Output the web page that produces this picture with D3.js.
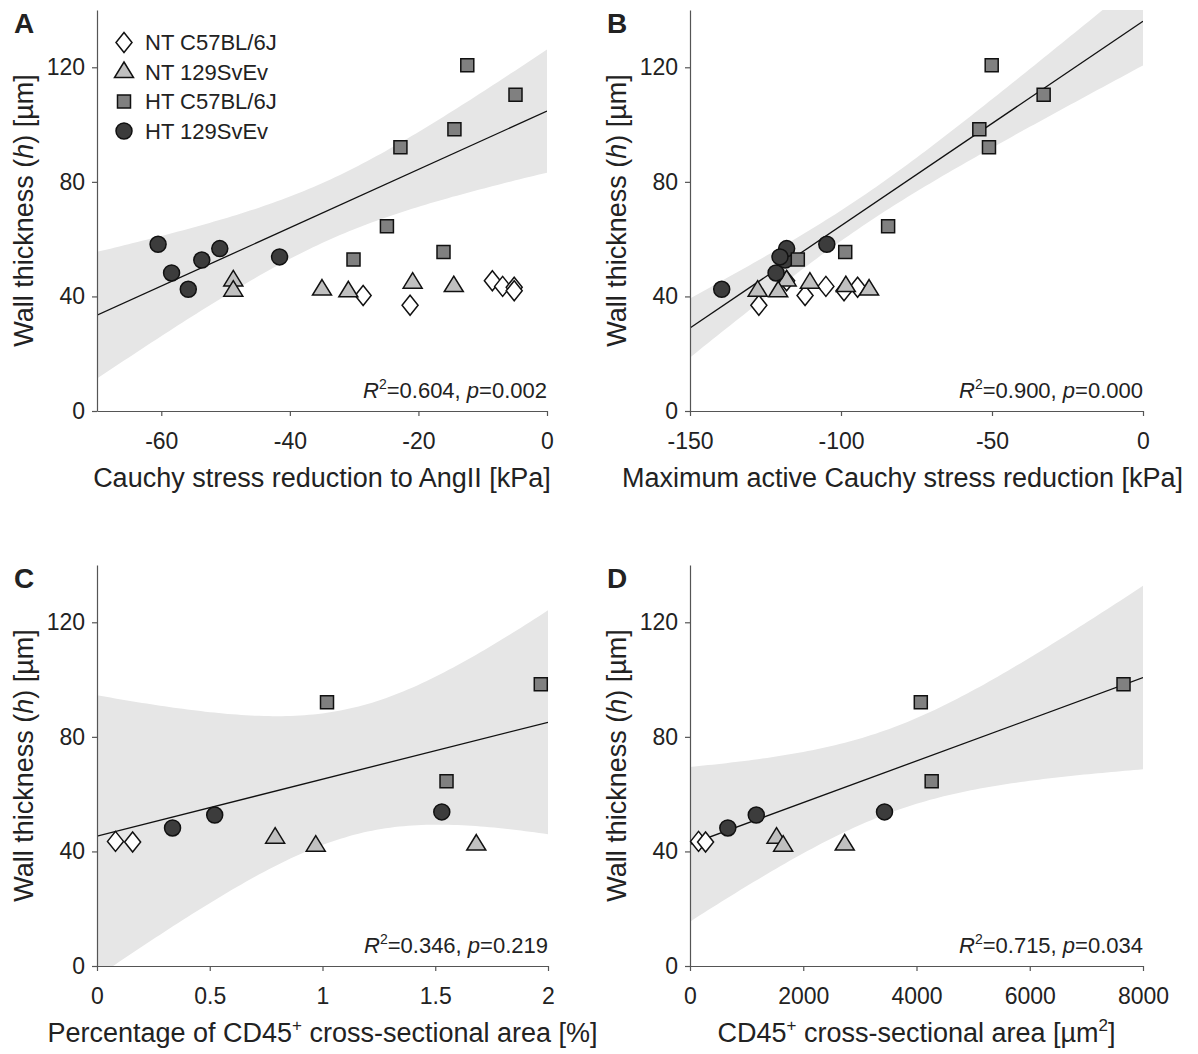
<!DOCTYPE html>
<html>
<head>
<meta charset="utf-8">
<script src="https://cdn.jsdelivr.net/npm/d3@7"></script>
<style>
  body { margin: 0; background: #fff; }
  text { font-family: Arial, "Liberation Sans", sans-serif; fill: #222; }
</style>
</head>
<body>
<div id="chart"></div>
<script>
// ---- Data ----
const groupNames = ['NT C57BL/6J', 'NT 129SvEv', 'HT C57BL/6J', 'HT 129SvEv'];

// wall thickness h [µm], all specimens (panels A, B)
const hNTC57 = [40.3, 36.9, 45.5, 43.5, 43.2, 42.0];
const hNT129 = [45.6, 42.0, 42.4, 41.8, 44.8, 43.6];
const hHTC57 = [120.7, 110.4, 98.4, 92.1, 64.5, 52.9, 55.5];
const hHT129 = [58.2, 48.2, 42.5, 52.7, 56.7, 53.8];

// A: Cauchy stress reduction to AngII [kPa]
const angNTC57 = [-28.6, -21.3, -8.5, -6.9, -5.1, -5.1];
const angNT129 = [-48.8, -48.8, -35.0, -30.9, -20.9, -14.5];
const angHTC57 = [-12.4, -4.9, -14.4, -22.8, -24.9, -30.1, -16.1];
const angHT129 = [-60.5, -58.4, -55.8, -53.7, -50.9, -41.6];

// B: maximum active Cauchy stress reduction [kPa]
const maxNTC57 = [-111.9, -127.2, -118.0, -105.0, -94.5, -99.0];
const maxNT129 = [-118.0, -127.6, -90.7, -120.8, -110.3, -98.4];
const maxHTC57 = [-50.1, -32.9, -54.2, -51.0, -84.4, -114.3, -98.6];
const maxHT129 = [-104.7, -121.5, -139.5, -118.5, -118.0, -120.2];

// wall thickness of the specimens with CD45 data (panels C, D)
const hCdNTC57 = [43.5, 43.3];
const hCdNT129 = [44.8, 42.0, 42.4];
const hCdHTC57 = [92.1, 64.5, 98.4];
const hCdHT129 = [48.2, 52.7, 53.8];

// C: percentage of CD45+ cross-sectional area [%]
const pctNTC57 = [0.082, 0.158];
const pctNT129 = [0.79, 0.97, 1.682];
const pctHTC57 = [1.02, 1.55, 1.968];
const pctHT129 = [0.335, 0.522, 1.529];

// D: CD45+ cross-sectional area [µm2]
const areaNTC57 = [151, 275];
const areaNT129 = [1528, 1645, 2733];
const areaHTC57 = [4076, 4268, 7656];
const areaHT129 = [668, 1170, 3435];

const yTicks = [0, 40, 80, 120];
const xTicksA = [-60, -40, -20, 0];
const xTicksB = [-150, -100, -50, 0];
const xTicksC = [0, 0.5, 1, 1.5, 2];
const xTicksD = [0, 2000, 4000, 6000, 8000];

const r2Values = ['0.604', '0.900', '0.346', '0.715'];
const pValues = ['0.002', '0.000', '0.219', '0.034'];

// ---- Stats helpers ----
function lgamma(z) {
    const c = [0.99999999999980993, 676.5203681218851, -1259.1392167224028,
        771.32342877765313, -176.61502916214059, 12.507343278686905,
        -0.13857109526572012, 9.9843695780195716e-6, 1.5056327351493116e-7];
    z -= 1;
    let x = c[0];
    for (let i = 1; i < 9; i++) x += c[i] / (z + i);
    const t = z + 7.5;
    return 0.5 * Math.log(2 * Math.PI) + (z + 0.5) * Math.log(t) - t + Math.log(x);
}
function tCdf(t, df) {
    const k = Math.exp(lgamma((df + 1) / 2) - lgamma(df / 2)) / Math.sqrt(df * Math.PI);
    const pdf = u => k * Math.pow(1 + u * u / df, -(df + 1) / 2);
    const n = 400, h = t / n;
    let s = pdf(0) + pdf(t);
    for (let i = 1; i < n; i++) s += (i % 2 ? 4 : 2) * pdf(i * h);
    return 0.5 + s * h / 3;
}
function tInv(p, df) {
    let lo = 0, hi = 50;
    for (let i = 0; i < 60; i++) {
        const mid = (lo + hi) / 2;
        if (tCdf(mid, df) < p) lo = mid; else hi = mid;
    }
    return (lo + hi) / 2;
}
function linearFit(xs, ys) {
    const n = xs.length;
    const mx = d3.mean(xs), my = d3.mean(ys);
    let sxx = 0, sxy = 0, syy = 0;
    xs.forEach((x, i) => {
        sxx += (x - mx) ** 2; sxy += (x - mx) * (ys[i] - my); syy += (ys[i] - my) ** 2;
    });
    const slope = sxy / sxx, icpt = my - slope * mx;
    const s = Math.sqrt((syy - sxy * sxy / sxx) / (n - 2));
    const tc = tInv(0.975, n - 2);
    return {
        at: x => icpt + slope * x,
        half: x => tc * s * Math.sqrt(1 / n + (x - mx) ** 2 / sxx)
    };
}

// ---- Panels ----
const panels = [
    { letter: 'A', xs: [angNTC57, angNT129, angHTC57, angHT129], ys: [hNTC57, hNT129, hHTC57, hHT129],
      xDomain: [-70, 0], xTicks: xTicksA, left: 97, top: 10, width: 450, labelShift: 0,
      xLabel: [{ t: 'Cauchy stress reduction to AngII [kPa]' }] },
    { letter: 'B', xs: [maxNTC57, maxNT129, maxHTC57, maxHT129], ys: [hNTC57, hNT129, hHTC57, hHT129],
      xDomain: [-150, 0], xTicks: xTicksB, left: 690, top: 10, width: 453, labelShift: -14,
      xLabel: [{ t: 'Maximum active Cauchy stress reduction [kPa]' }] },
    { letter: 'C', xs: [pctNTC57, pctNT129, pctHTC57, pctHT129], ys: [hCdNTC57, hCdNT129, hCdHTC57, hCdHT129],
      xDomain: [0, 2], xTicks: xTicksC, left: 97, top: 565, width: 451, labelShift: 0,
      xLabel: [{ t: 'Percentage of CD45' }, { t: '+', sup: true }, { t: ' cross-sectional area [%]' }] },
    { letter: 'D', xs: [areaNTC57, areaNT129, areaHTC57, areaHT129], ys: [hCdNTC57, hCdNT129, hCdHTC57, hCdHT129],
      xDomain: [0, 8000], xTicks: xTicksD, left: 690, top: 565, width: 453, labelShift: 0,
      xLabel: [{ t: 'CD45' }, { t: '+', sup: true }, { t: ' cross-sectional area [µm' }, { t: '2', sup: true }, { t: ']' }] }
];
const plotH = 401;

const markerFill = ['#ffffff', '#c0c0c0', '#808080', '#3c3c3c'];
function markerPath(g) {
    if (g === 0) return 'M0,-10L8,0L0,10L-8,0Z';
    if (g === 1) return 'M0,-10L9.5,5.5L-9.5,5.5Z';
    if (g === 2) return 'M-6.5,-6.5H6.5V6.5H-6.5Z';
    return d3.arc()({ innerRadius: 0, outerRadius: 8, startAngle: 0, endAngle: 2 * Math.PI });
}

function addRich(sel, parts, fontSize) {
    let shifted = false;
    parts.forEach(p => {
        const ts = sel.append('tspan').text(p.t);
        if (p.it) ts.attr('font-style', 'italic');
        if (p.sup) {
            ts.attr('font-size', Math.round(fontSize * 0.62)).attr('dy', -fontSize * 0.42);
            shifted = true;
        } else if (shifted) {
            ts.attr('dy', fontSize * 0.42);
            shifted = false;
        }
    });
}

const svg = d3.select('#chart').append('svg')
    .attr('width', 1198).attr('height', 1054);

const labelSize = 27;

panels.forEach((p, pi) => {
    const x = d3.scaleLinear().domain(p.xDomain).range([p.left, p.left + p.width]);
    const y = d3.scaleLinear().domain([0, 140]).range([p.top + plotH, p.top]);
    const g = svg.append('g');

    g.append('clipPath').attr('id', 'clip' + pi)
        .append('rect').attr('x', p.left).attr('y', p.top).attr('width', p.width).attr('height', plotH);

    // Regression on hypertensive groups
    const fx = p.xs[2].concat(p.xs[3]);
    const fy = p.ys[2].concat(p.ys[3]);
    const fit = linearFit(fx, fy);
    const grid = d3.range(0, 101).map(i => p.xDomain[0] + (p.xDomain[1] - p.xDomain[0]) * i / 100);

    const clipped = g.append('g').attr('clip-path', `url(#clip${pi})`);
    clipped.append('path')
        .datum(grid)
        .attr('d', d3.area().x(d => x(d)).y0(d => y(fit.at(d) - fit.half(d))).y1(d => y(fit.at(d) + fit.half(d))))
        .attr('fill', '#e6e6e6');
    clipped.append('path')
        .datum(p.xDomain)
        .attr('d', d3.line().x(d => x(d)).y(d => y(fit.at(d))))
        .attr('stroke', '#111').attr('stroke-width', 1.3).attr('fill', 'none');

    // Axes
    const yAxis = g.append('g').attr('transform', `translate(${p.left},0)`)
        .call(d3.axisLeft(y).tickValues(yTicks).tickSize(5).tickSizeOuter(0).tickPadding(7).tickFormat(d => String(d)));
    const xAxis = g.append('g').attr('transform', `translate(0,${p.top + plotH})`)
        .call(d3.axisBottom(x).tickValues(p.xTicks).tickSize(5).tickSizeOuter(0).tickPadding(17).tickFormat(d => String(d)));
    [yAxis, xAxis].forEach(a => {
        a.attr('font-size', 23).attr('font-family', 'Arial, "Liberation Sans", sans-serif');
        a.selectAll('path, line').attr('stroke', '#555').attr('stroke-width', 1.2);
        a.selectAll('text').attr('fill', '#222');
    });

    // Points: diamonds, triangles, circles, squares
    [0, 1, 3, 2].forEach(gi => {
        g.append('g').selectAll('path')
            .data(p.xs[gi].map((v, i) => [v, p.ys[gi][i]]))
            .join('path')
            .attr('transform', d => `translate(${x(d[0])},${y(d[1])})`)
            .attr('d', markerPath(gi))
            .attr('fill', markerFill[gi])
            .attr('stroke', '#111').attr('stroke-width', 1.5);
    });

    // Labels
    g.append('text')
        .attr('x', p.left - 83).attr('y', p.top + 23)
        .attr('font-size', 28).attr('font-weight', 'bold').attr('fill', '#000')
        .text(p.letter);

    const yl = g.append('text')
        .attr('transform', `translate(${p.left - 64},${p.top + plotH / 2}) rotate(-90)`)
        .attr('text-anchor', 'middle').attr('font-size', labelSize);
    addRich(yl, [{ t: 'Wall thickness (' }, { t: 'h', it: true }, { t: ') [µm]' }], labelSize);

    const xl = g.append('text')
        .attr('x', p.left + p.width / 2 + p.labelShift).attr('y', p.top + plotH + 76)
        .attr('text-anchor', 'middle').attr('font-size', labelSize);
    addRich(xl, p.xLabel, labelSize);

    const st = g.append('text')
        .attr('x', p.left + p.width).attr('y', p.top + plotH - 13)
        .attr('text-anchor', 'end').attr('font-size', 22);
    addRich(st, [{ t: 'R', it: true }, { t: '2', sup: true }, { t: '=' + r2Values[pi] + ', ' },
        { t: 'p', it: true }, { t: '=' + pValues[pi] }], 22);

    // Legend (panel A only)
    if (pi === 0) {
        const lg = g.append('g');
        groupNames.forEach((name, gi) => {
            const ly = p.top + 32.5 + gi * 29.5;
            lg.append('path')
                .attr('transform', `translate(${p.left + 27},${ly})`)
                .attr('d', markerPath(gi))
                .attr('fill', markerFill[gi])
                .attr('stroke', '#111').attr('stroke-width', 1.5);
            lg.append('text')
                .attr('x', p.left + 48).attr('y', ly).attr('dy', '0.36em')
                .attr('font-size', 22)
                .text(name);
        });
    }
});
</script>
</body>
</html>
